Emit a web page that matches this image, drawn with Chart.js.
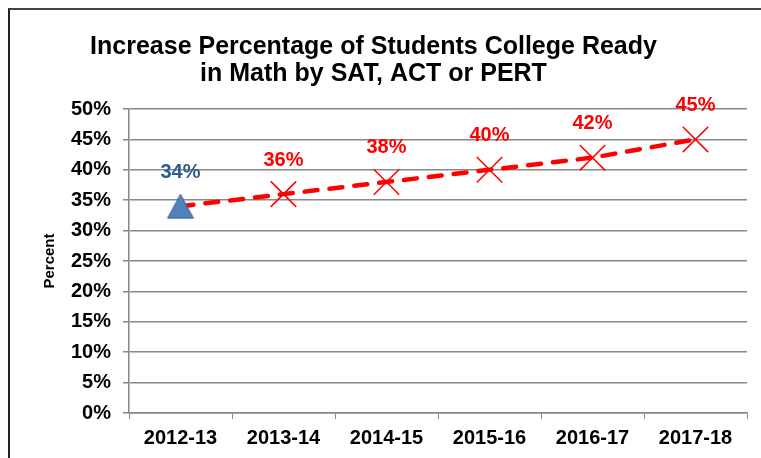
<!DOCTYPE html>
<html>
<head>
<meta charset="utf-8">
<script src="https://cdn.jsdelivr.net/npm/chart.js@4/dist/chart.umd.min.js"></script>
<style>
  body { margin: 0; background: #fff; }
  #wrap { position: relative; width: 761px; height: 458px; overflow: hidden; }
  #frame { position: absolute; left: 8px; top: 8px; width: 800px; height: 500px;
           border-left: 2px solid #222; border-top: 2px solid #444; }
  canvas { position: absolute; left: 0; top: 0; }
</style>
</head>
<body>
<div id="wrap">
  <div id="frame"></div>
  <canvas id="chart" width="761" height="458"></canvas>
</div>
<script>
// chart data
const years = ['2012-13', '2013-14', '2014-15', '2015-16', '2016-17', '2017-18'];
const percents = [34, 36, 38, 40, 42, 45];
const pointLabels = ['34%', '36%', '38%', '40%', '42%', '45%'];
const yTicks = [0, 5, 10, 15, 20, 25, 30, 35, 40, 45, 50];

const RED = '#ff0000';
const BLUE_TEXT = '#2f5b8f';
const FONT = '"Liberation Sans", Arial, sans-serif';

// triangle marker centred on the point (like excel)
function makeTriangle() {
    const c = document.createElement('canvas');
    c.width = 28;
    c.height = 26;
    const g = c.getContext('2d');
    g.beginPath();
    g.moveTo(14, 1);
    g.lineTo(27, 25);
    g.lineTo(1, 25);
    g.closePath();
    g.fillStyle = '#4f81bd';
    g.fill();
    g.strokeStyle = '#385d8a';
    g.lineWidth = 1;
    g.stroke();
    return c;
}
const triangle = makeTriangle();

// labels above each point
const valueLabels = {
    id: 'valueLabels',
    afterDatasetsDraw(chart) {
        const ctx = chart.ctx;
        const meta = chart.getDatasetMeta(0);
        ctx.save();
        ctx.font = 'bold 20px ' + FONT;
        ctx.textAlign = 'center';
        ctx.textBaseline = 'middle';
        meta.data.forEach((pt, i) => {
            ctx.fillStyle = i === 0 ? BLUE_TEXT : RED;
            ctx.fillText(pointLabels[i], pt.x, pt.y - 34);
        });
        ctx.restore();
    }
};

new Chart(document.getElementById('chart'), {
    type: 'line',
    data: {
        labels: years,
        datasets: [{
            data: percents,
            borderColor: RED,
            borderWidth: 4.5,
            borderDash: [13, 12],
            borderCapStyle: 'round',
            fill: false,
            tension: 0,
            clip: false,
            pointStyle: percents.map((v, i) => i === 0 ? triangle : 'crossRot'),
            pointRadius: 18,
            pointBorderColor: RED,
            pointBorderWidth: 1.5,
            pointBackgroundColor: RED
        }]
    },
    options: {
        responsive: false,
        animation: false,
        events: [],
        layout: { autoPadding: false, padding: { left: 0, right: 14, top: 0, bottom: 0 } },
        plugins: {
            legend: { display: false },
            tooltip: { enabled: false },
            title: {
                display: true,
                text: ['Increase Percentage of Students College Ready', 'in Math by SAT, ACT or PERT'],
                color: '#000',
                font: { family: FONT, size: 25, weight: 'bold', lineHeight: 1.1 },
                padding: { top: 33, bottom: 21 }
            }
        },
        scales: {
            x: {
                offset: true,
                grid: { display: true, drawOnChartArea: false, offset: true, color: '#888', tickLength: 6 },
                border: { color: '#888', width: 1.5 },
                ticks: {
                    color: '#000',
                    padding: 7,
                    maxRotation: 0,
                    font: { family: FONT, size: 20, weight: 'bold' }
                },
                afterFit(scale) {
                    scale.height = 45;
                    scale.paddingLeft = 0;
                    scale.paddingRight = 0;
                }
            },
            y: {
                min: 0,
                max: 50,
                afterBuildTicks(scale) { scale.ticks = yTicks.map(v => ({ value: v })); },
                grid: { color: '#888', lineWidth: 1.5, tickLength: 6 },
                border: { color: '#888', width: 1.5 },
                ticks: {
                    color: '#000',
                    padding: 12,
                    font: { family: FONT, size: 20, weight: 'bold' },
                    callback: v => v + '%'
                },
                title: {
                    display: true,
                    text: 'Percent',
                    color: '#000',
                    font: { family: FONT, size: 15, weight: 'bold' },
                    padding: { top: 41, bottom: 0 }
                },
                afterFit(scale) { scale.width = 129; }
            }
        }
    },
    plugins: [valueLabels]
});
</script>
</body>
</html>
